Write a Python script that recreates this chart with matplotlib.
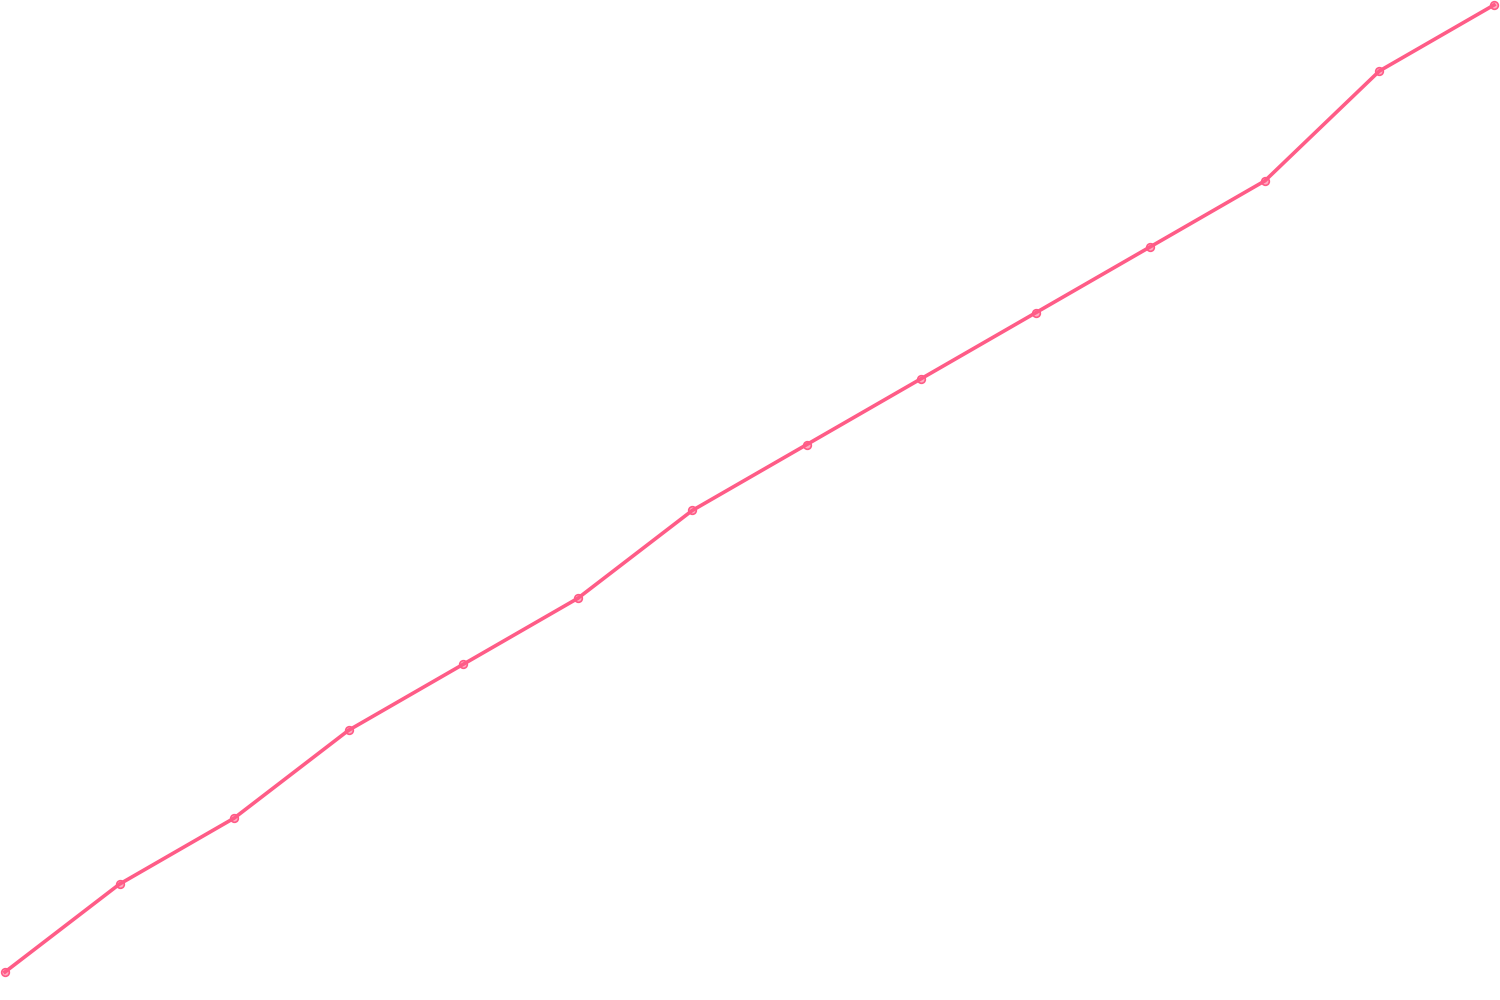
import matplotlib
matplotlib.use("Agg")
import matplotlib.pyplot as plt

steps = list(range(14))
values = [0, 4, 7, 11, 14, 17, 21, 24, 27, 30, 33, 36, 41, 44]

line_color = "#ff5c87"

fig = plt.figure(figsize=(15, 10), dpi=100)
ax = fig.add_axes([0, 0, 1, 1])
ax.plot(steps, values, color=line_color, linewidth=2.6,
        marker="o", markersize=5.5, markerfacecolor=(1.0, 0.36, 0.53, 0.5),
        markeredgecolor=line_color, markeredgewidth=1.2)

px_x = 1489 / 13
px_y = 967 / 44
ax.set_xlim(-5 / px_x, 13 + 6 / px_x)
ax.set_ylim(-28 / px_y, 44 + 5 / px_y)
ax.axis("off")

fig.savefig("out.png", dpi=100)
